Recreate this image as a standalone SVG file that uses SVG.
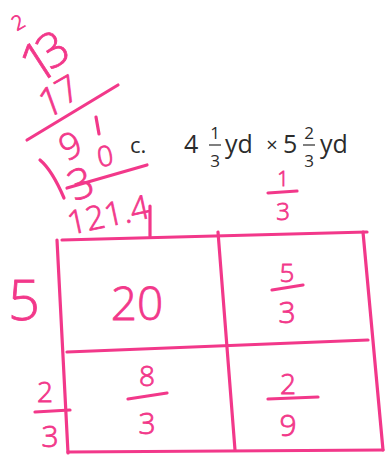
<svg xmlns="http://www.w3.org/2000/svg" width="387" height="457" viewBox="0 0 387 457">
<style>
.ink{fill:none;stroke:#f2388a;stroke-width:3.2;stroke-linecap:round;stroke-linejoin:round}
.h{fill:#f2388a;stroke:#f2388a;stroke-width:0.8;font-family:"Open Sans","DejaVu Sans",sans-serif;font-weight:300;text-anchor:middle;dominant-baseline:central}
.p{fill:#2b2b2b;font-family:"Open Sans","Liberation Sans",sans-serif}
.pm{fill:#2b2b2b;font-family:"Open Sans","Liberation Sans",sans-serif;text-anchor:middle}
.bar{stroke:#2b2b2b;stroke-width:1.2}
</style>
<rect width="387" height="457" fill="#ffffff"/>
<g id="problem">
<text class="p" x="130" y="153" font-size="22">c.</text>
<text class="p" x="184" y="153" font-size="25">4</text>
<text class="pm" x="215" y="139" font-size="17">1</text>
<line class="bar" x1="209" y1="145" x2="221" y2="145"/>
<text class="pm" x="215" y="167" font-size="17">3</text>
<text class="p" x="225" y="153" font-size="25">yd</text>
<text class="pm" x="272" y="152" font-size="20">×</text>
<text class="p" x="283" y="153" font-size="25">5</text>
<text class="pm" x="309" y="139" font-size="17">2</text>
<line class="bar" x1="303" y1="145" x2="315" y2="145"/>
<text class="pm" x="309" y="167" font-size="17">3</text>
<text class="p" x="320" y="153" font-size="25">yd</text>
</g>
<g id="scratch">
<text class="h" transform="translate(18,22) rotate(-30)" font-size="20">2</text>
<text class="h" transform="translate(37,60) rotate(-33)" font-size="55">1</text>
<text class="h" transform="translate(52,48) rotate(-33)" font-size="48">3</text>
<text class="h" transform="translate(50,100) rotate(-20)" font-size="40">1</text>
<text class="h" transform="translate(67,89) rotate(-30)" font-size="36">7</text>
<path class="ink" d="M27,140 L118,85"/>
<path class="ink" d="M96,117 L99,134"/>
<text class="h" transform="translate(70,145) rotate(-25)" font-size="36">9</text>
<path class="ink" d="M40,160 Q52,170 64,198"/>
<text class="h" transform="translate(80,182) rotate(-20)" font-size="42">3</text>
<text class="h" transform="translate(105,155) rotate(-10)" font-size="28">0</text>
<path class="ink" d="M67,188 L147,165"/>
<text class="h" transform="translate(108,214) rotate(-12)" font-size="33">121.4</text>
</g>
<g id="grid">
<path class="ink" d="M62,240 L367,232"/>
<path class="ink" d="M57,240 L68,453"/>
<path class="ink" d="M363,232 L383,450"/>
<path class="ink" d="M68,452 L383,450"/>
<path class="ink" d="M67,352 L368,340"/>
<path class="ink" d="M218,232 L235,450"/>
<path class="ink" d="M150,206 L150,236"/>
</g>
<g id="labels">
<text class="h" x="283" y="178" font-size="20">1</text>
<path class="ink" d="M268,193 L297,191"/>
<text class="h" x="283" y="210" font-size="24">3</text>
<text class="h" x="24" y="298" font-size="56">5</text>
<text class="h" x="45" y="391" font-size="28">2</text>
<path class="ink" d="M35,412 L70,410"/>
<text class="h" x="50" y="435" font-size="30">3</text>
</g>
<g id="cells">
<text class="h" x="137" y="302" font-size="46">20</text>
<text class="h" x="287" y="272" font-size="26">5</text>
<path class="ink" d="M272,290 L303,285"/>
<text class="h" x="287" y="311" font-size="30">3</text>
<text class="h" x="147" y="375" font-size="28">8</text>
<path class="ink" d="M128,399 L167,393"/>
<text class="h" x="147" y="422" font-size="30">3</text>
<text class="h" x="288" y="383" font-size="28">2</text>
<path class="ink" d="M268,399 L318,397"/>
<text class="h" x="288" y="424" font-size="30">9</text>
</g>
</svg>
